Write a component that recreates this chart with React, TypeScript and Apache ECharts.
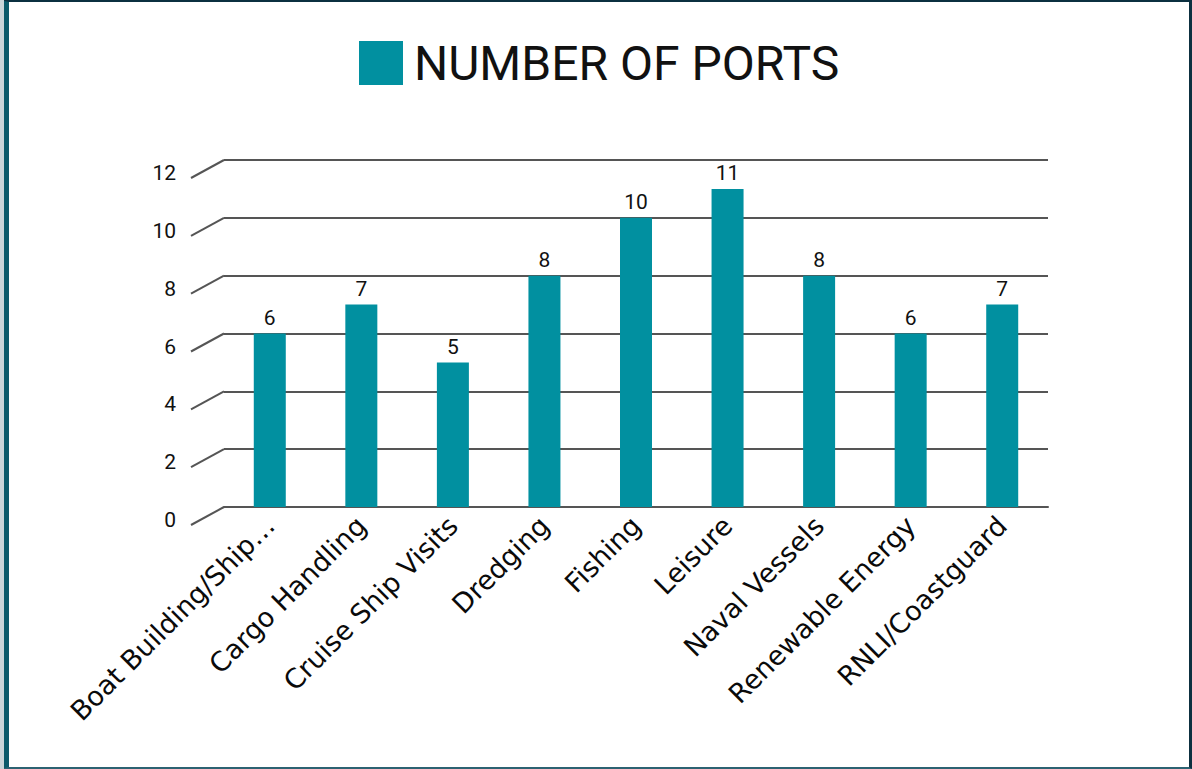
import React, { useEffect, useRef } from "react";
import * as echarts from "echarts";

const categories = [
  "Boat Building/Shipbuilding",
  "Cargo Handling",
  "Cruise Ship Visits",
  "Dredging",
  "Fishing",
  "Leisure",
  "Naval Vessels",
  "Renewable Energy",
  "RNLI/Coastguard",
];
const ports = [6, 7, 5, 8, 10, 11, 8, 6, 7];
const seriesName = "NUMBER OF PORTS";
const yTicks = [0, 2, 4, 6, 8, 10, 12];

const BAR = "#0190a0";

export default function App() {
  const ref = useRef<HTMLDivElement>(null);
  useEffect(() => {
    const chart = echarts.init(ref.current!, null, { renderer: "svg" });
    const gridLeft = 224;
    chart.setOption({
      animation: false,
      backgroundColor: "transparent",
      legend: {
        left: 354,
        top: 34,
        itemWidth: 44,
        itemHeight: 44,
        icon: "rect",
        data: [seriesName],
        textStyle: {
          fontFamily: "Roboto",
          fontSize: 48,
          color: "#111",
          padding: [0, 0, 0, 6],
        },
      },
      grid: { left: gridLeft, right: 144, top: 160, bottom: 262 },
      xAxis: {
        type: "category",
        data: categories,
        axisLine: { show: true, lineStyle: { color: "#555", width: 2 } },
        axisTick: { show: false },
        axisLabel: {
          interval: 0,
          rotate: 45,
          margin: 14,
          fontFamily: "DejaVu Sans",
          fontSize: 27,
          color: "#0a0a0a",
          formatter: (v: string) => (v.length > 20 ? v.slice(0, 18) + "…" : v),
        },
      },
      yAxis: {
        type: "value",
        min: yTicks[0],
        max: yTicks[yTicks.length - 1],
        interval: 2,
        axisLine: { show: false },
        axisTick: { show: false },
        splitLine: { lineStyle: { color: "#555", width: 2 } },
        axisLabel: { show: false },
      },
      series: [
        {
          name: seriesName,
          type: "bar",
          data: ports,
          barWidth: 32,
          itemStyle: { color: BAR },
          z: 3,
          label: {
            show: true,
            position: "top",
            distance: 5,
            fontFamily: "Roboto",
            fontSize: 21,
            color: "#111",
          },
        },
      ],
    });
    const graphics: any[] = [];
    yTicks.forEach((t) => {
      const y = chart.convertToPixel({ yAxisIndex: 0 }, t) as number;
      graphics.push({
        type: "line",
        shape: { x1: gridLeft - 33, y1: y + 18, x2: gridLeft, y2: y },
        style: { stroke: "#555", lineWidth: 2 },
      });
      graphics.push({
        type: "text",
        x: 176,
        y: y + 13,
        style: {
          text: String(t),
          align: "right",
          verticalAlign: "middle",
          fontFamily: "Roboto",
          fontSize: 21,
          fill: "#111",
        },
      });
    });
    chart.setOption({ graphic: graphics });
    return () => chart.dispose();
  }, []);
  return (
    <>
      <div
        style={{
          position: "fixed",
          left: 0,
          top: 0,
          width: 1192,
          height: 769,
          boxSizing: "border-box",
          borderLeft: "9px solid #0a5a6a",
          borderTop: "2px solid #0b3040",
          borderRight: "3px solid #0d3040",
          borderBottom: "2px solid #2c6272",
          background: "#fff",
        }}
      />
      <div
        style={{
          position: "fixed",
          left: 0,
          top: 0,
          width: 4,
          height: 769,
          background: "#c9d5d9",
        }}
      />
      <div
        ref={ref}
        style={{ position: "fixed", left: 0, top: 0, width: 1192, height: 769 }}
      />
    </>
  );
}
